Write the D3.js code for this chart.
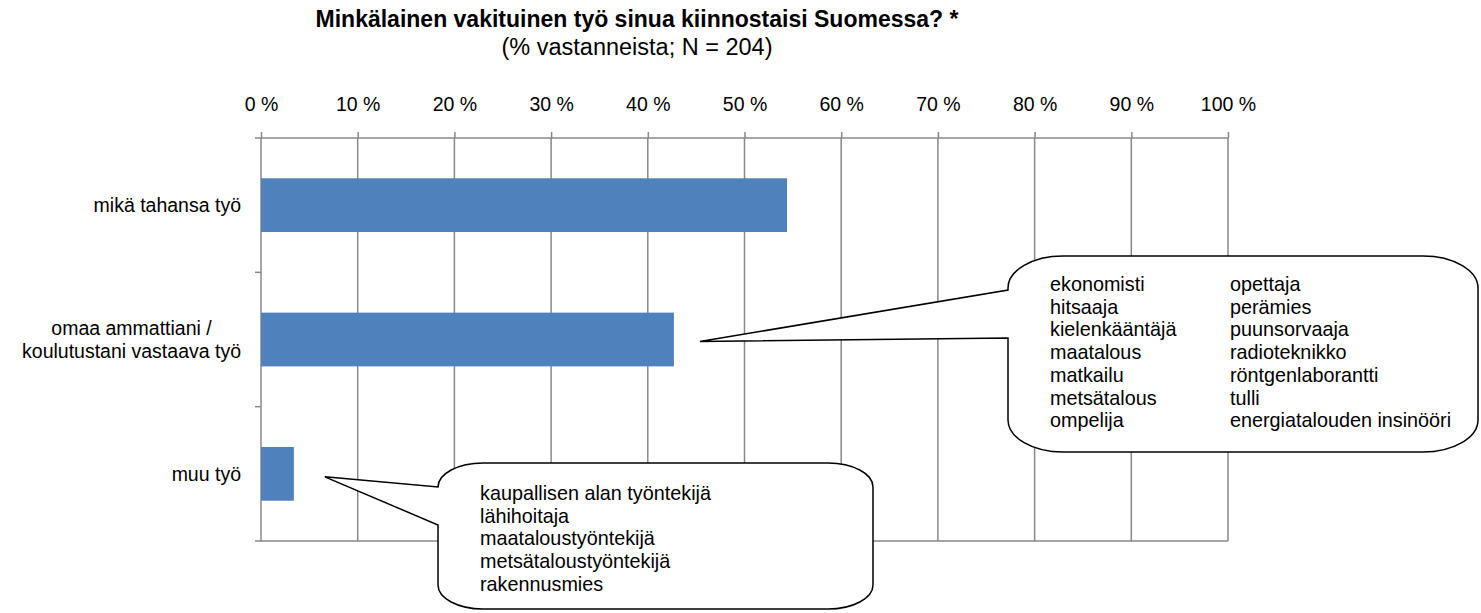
<!DOCTYPE html>
<html lang="fi">
<head>
<meta charset="utf-8">
<title>Minkälainen vakituinen työ</title>
<script src="https://cdn.jsdelivr.net/npm/d3@7"></script>
<style>
  body { margin: 0; background: #fff; }
  svg text { font-family: "Liberation Sans", Arial, sans-serif; fill: #000; }
  .axis path { display: none; }
  .axis line { stroke: #888; stroke-width: 1.5; }
  .axis text { font-size: 19.5px; }
</style>
</head>
<body>
<script>
// data
var categories = ["mikä tahansa työ", "omaa ammattiani /\nkoulutustani vastaava työ", "muu työ"];
var values = [54.4, 42.7, 3.4];
var xTicks = [0, 10, 20, 30, 40, 50, 60, 70, 80, 90, 100];
var titleText = "Minkälainen vakituinen työ sinua kiinnostaisi Suomessa? *";
var subtitleText = "(% vastanneista; N = 204)";

// callout contents
var jobsLeftCol = ["ekonomisti", "hitsaaja", "kielenkääntäjä", "maatalous", "matkailu", "metsätalous", "ompelija"];
var jobsRightCol = ["opettaja", "perämies", "puunsorvaaja", "radioteknikko", "röntgenlaborantti", "tulli", "energiatalouden insinööri"];
var otherJobs = ["kaupallisen alan työntekijä", "lähihoitaja", "maataloustyöntekijä", "metsätaloustyöntekijä", "rakennusmies"];

var w = 1481, h = 613;
// plot area (note: "top" is reserved on window, so use p*)
var pLeft = 261, pRight = 1228, pTop = 138, pBottom = 541;
var gridColor = "#888";

var svg = d3.select("body").append("svg")
    .attr("width", w)
    .attr("height", h);

var x = d3.scaleLinear().domain([0, 100]).range([pLeft, pRight]);
var y = d3.scaleBand().domain(categories).range([pTop, pBottom]).paddingInner(0.6).paddingOuter(0.3);

// title
svg.append("text")
    .attr("x", 637).attr("y", 27)
    .attr("text-anchor", "middle")
    .style("font-size", "23px").style("font-weight", "bold")
    .text(titleText);
svg.append("text")
    .attr("x", 637).attr("y", 55)
    .attr("text-anchor", "middle")
    .style("font-size", "23.5px")
    .text(subtitleText);

// vertical gridlines
svg.append("g").selectAll("line")
    .data(xTicks)
    .enter().append("line")
    .attr("x1", function(d) { return x(d); })
    .attr("x2", function(d) { return x(d); })
    .attr("y1", pTop).attr("y2", pBottom)
    .attr("stroke", gridColor).attr("stroke-width", 1.5);

// top / bottom lines
[pTop, pBottom].forEach(function(yy) {
    svg.append("line")
        .attr("x1", pLeft - 6).attr("x2", pRight)
        .attr("y1", yy).attr("y2", yy)
        .attr("stroke", gridColor).attr("stroke-width", 1.5);
});

// category separators on the left axis
var bandStep = (pBottom - pTop) / categories.length;
svg.append("g").selectAll("line")
    .data(d3.range(1, categories.length))
    .enter().append("line")
    .attr("x1", pLeft - 6).attr("x2", pLeft)
    .attr("y1", function(i) { return pTop + i * bandStep; })
    .attr("y2", function(i) { return pTop + i * bandStep; })
    .attr("stroke", gridColor).attr("stroke-width", 1.5);

// x axis on top
svg.append("g")
    .attr("class", "axis")
    .attr("transform", "translate(0," + pTop + ")")
    .call(d3.axisTop(x).tickValues(xTicks).tickSize(6).tickPadding(21)
        .tickFormat(function(d) { return d + " %"; }));

// category labels (multi-line ones are centred within their block, right edge at the axis gap)
var yAxis = svg.append("g")
    .attr("class", "axis")
    .attr("transform", "translate(" + (pLeft - 20) + ",0)")
    .call(d3.axisLeft(y).tickSize(0).tickPadding(0));
yAxis.selectAll(".tick text").each(function(d) {
    var lines = d.split("\n");
    var t = d3.select(this).text("").attr("dy", null);
    var spans = lines.map(function(line, i) {
        return t.append("tspan")
            .attr("x", 0)
            .attr("dy", i === 0 ? ((0.35 - (lines.length - 1) * 0.6) + "em") : "1.2em")
            .text(line);
    });
    if (lines.length > 1) {
        var maxW = d3.max(spans, function(s) { return s.node().getComputedTextLength(); });
        t.attr("text-anchor", "middle");
        spans.forEach(function(s) { s.attr("x", -maxW / 2); });
    }
});

// bars
svg.append("g").selectAll("rect")
    .data(values)
    .enter().append("rect")
    .attr("x", x(0))
    .attr("y", function(d, i) { return y(categories[i]); })
    .attr("width", function(d) { return x(d) - x(0); })
    .attr("height", y.bandwidth())
    .attr("fill", "#4F81BD");

// callout shape: rounded box with a wedge coming out of the left side
function callout(x0, y0, x1, y1, rx, ry, wTop, wBot, tx, ty) {
    return "M" + (x0 + rx) + "," + y0 +
        "L" + (x1 - rx) + "," + y0 +
        "A" + rx + "," + ry + " 0 0 1 " + x1 + "," + (y0 + ry) +
        "L" + x1 + "," + (y1 - ry) +
        "A" + rx + "," + ry + " 0 0 1 " + (x1 - rx) + "," + y1 +
        "L" + (x0 + rx) + "," + y1 +
        "A" + rx + "," + ry + " 0 0 1 " + x0 + "," + (y1 - ry) +
        "L" + x0 + "," + wBot +
        "L" + tx + "," + ty +
        "L" + x0 + "," + wTop +
        "L" + x0 + "," + (y0 + ry) +
        "A" + rx + "," + ry + " 0 0 1 " + (x0 + rx) + "," + y0 + "Z";
}

var cy1 = y(categories[1]) + y.bandwidth() / 2;
var cy2 = y(categories[2]) + y.bandwidth() / 2;

svg.append("path")
    .attr("d", callout(1008, 256, 1478, 452, 55, 32, 290, 338, x(values[1]) + 26, cy1 + 2))
    .attr("fill", "#fff").attr("stroke", "#000").attr("stroke-width", 1.5);

svg.append("path")
    .attr("d", callout(438, 463, 873, 609, 45, 24, 487, 525, x(values[2]) + 31, cy2 + 3))
    .attr("fill", "#fff").attr("stroke", "#000").attr("stroke-width", 1.5);

var lh = 22.7;
function textCol(list, tx, ty) {
    svg.append("g").selectAll("text")
        .data(list)
        .enter().append("text")
        .attr("x", tx)
        .attr("y", function(d, i) { return ty + i * lh; })
        .style("font-size", "19.8px")
        .text(function(d) { return d; });
}
textCol(jobsLeftCol, 1050, 291);
textCol(jobsRightCol, 1230, 291);
textCol(otherJobs, 480, 500);
</script>
</body>
</html>
